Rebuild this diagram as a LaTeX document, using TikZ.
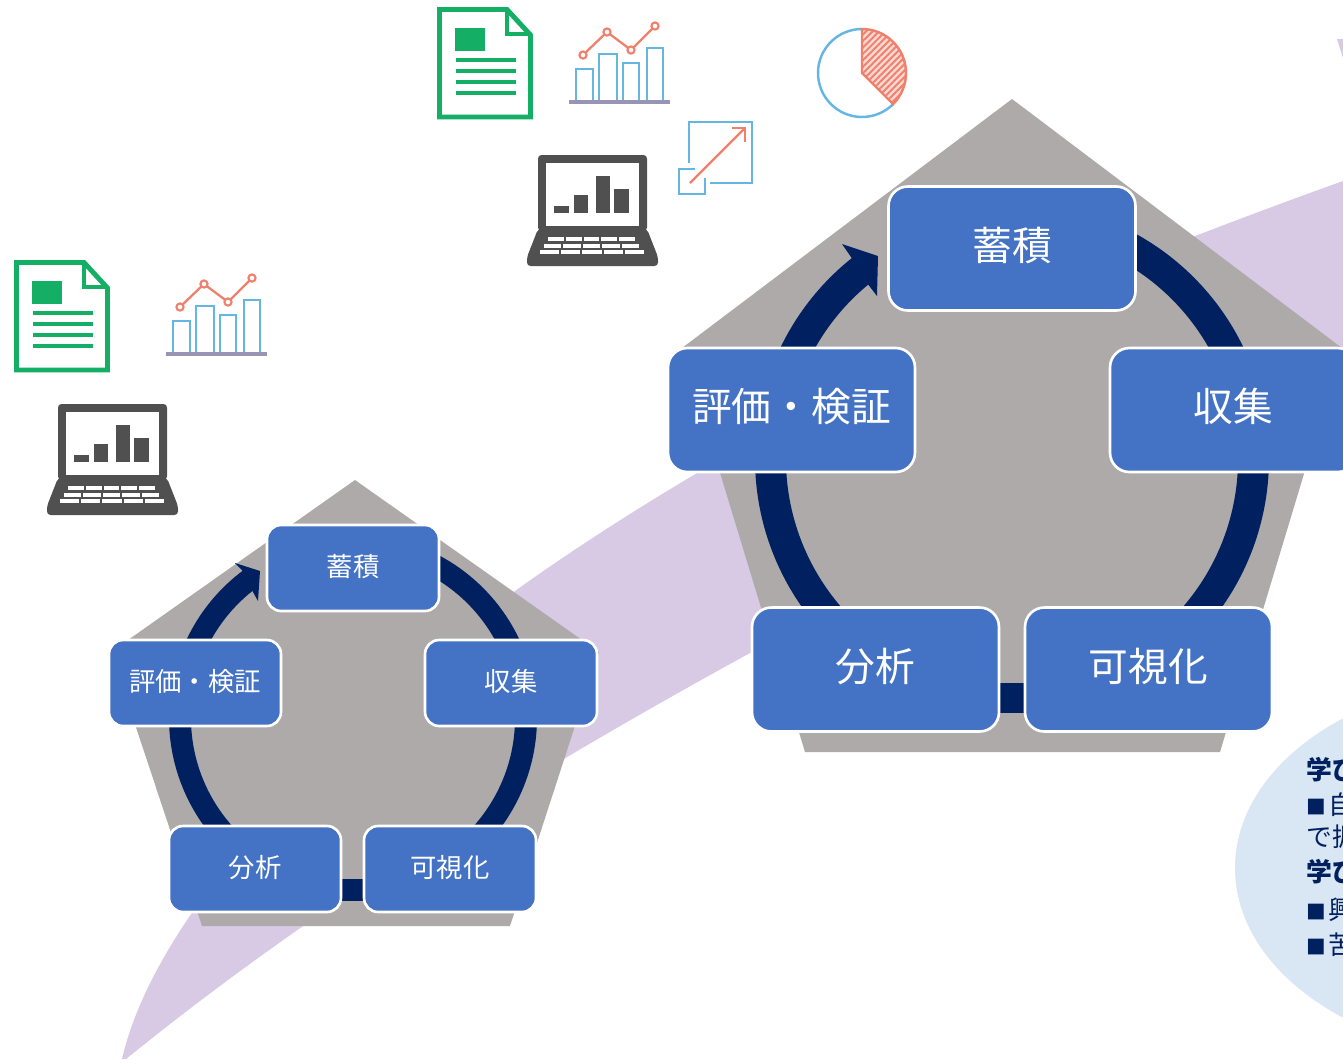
\documentclass[tikz,border=0pt]{standalone}
\usepackage{fontspec}
\setmainfont{Noto Sans CJK JP}
\usetikzlibrary{backgrounds,calc,patterns.meta}

\definecolor{boxblue}{HTML}{4472C4}
\definecolor{ringnavy}{HTML}{002060}
\definecolor{pentgray}{HTML}{AEAAAA}
\definecolor{swoosh}{HTML}{D8C9E5}
\definecolor{bubble}{HTML}{D9E7F4}
\definecolor{docgreen}{HTML}{14AF64}
\definecolor{iconblue}{HTML}{66B6E3}
\definecolor{iconred}{HTML}{F07F6C}
\definecolor{icongray}{HTML}{505050}
\definecolor{chartbase}{HTML}{9A94B4}

\newcommand{\squaremark}{{\fontsize{11.2}{20}\selectfont ■}\hspace{1.5pt}}

\tikzset{
    stagebox/.style={draw=white, line width=1.5pt, fill=boxblue, text=white,
                     inner sep=0pt, outer sep=0pt},
    bigbox/.style={stagebox, minimum width=4.94cm, minimum height=2.48cm,
                   rounded corners=11pt, text height=19pt, text depth=5.8pt,
                   font=\fontsize{22.6}{26}\selectfont},
    smallbox/.style={stagebox, minimum width=3.44cm, minimum height=1.72cm,
                     rounded corners=8pt, text height=13pt, text depth=3.6pt,
                     font=\fontsize{15}{18}\selectfont},
    bigring/.style={draw=ringnavy, line width=17.6pt},
    smallring/.style={draw=ringnavy, line width=12.5pt},
    docicon/.pic={
        \draw[docgreen, line width=2.8pt, line join=miter]
            (1.5, 1.5) -- (69, 1.5) -- (92.5, 27) -- (92.5, 109) -- (1.5, 109) -- cycle;
        \draw[docgreen, line width=2.8pt] (69, 1.5) -- (69, 26) -- (92.5, 26);
        \fill[docgreen] (17, 20) rectangle (47, 43);
        \foreach \y in {52, 63, 74, 85}
            \draw[docgreen, line width=2.5pt] (18, \y) -- (78, \y);
    },
    charticon/.pic={
        \draw[iconblue, line width=1.5pt] (7, 0) -- (7, -33) -- (24, -33) -- (24, 0);
        \draw[iconblue, line width=1.5pt] (30, 0) -- (30, -48) -- (48, -48) -- (48, 0);
        \draw[iconblue, line width=1.5pt] (54, 0) -- (54, -39) -- (70, -39) -- (70, 0);
        \draw[iconblue, line width=1.5pt] (78, 0) -- (78, -54) -- (94, -54) -- (94, 0);
        \draw[chartbase, line width=2.2pt] (0, 0) -- (101, 0);
        \draw[iconred, line width=1.3pt] (14, -47) -- (38, -70) -- (62, -52) -- (86, -76);
        \foreach \x/\y in {14/-47, 38/-70, 62/-52, 86/-76}
            \draw[iconred, line width=1.2pt, fill=white] (\x, \y) circle[radius=3.6];
    },
    laptopicon/.pic={
        \fill[icongray, rounded corners=2pt] (11, 0) rectangle (120, 76);
        \fill[icongray, rounded corners=2pt]
            (11, 74) -- (120, 74) -- (131, 102) -- (131, 111) -- (0, 111) -- (0, 102) -- cycle;
        \fill[white] (19, 8) rectangle (112, 71);
        \fill[icongray] (27, 51) rectangle (42, 58);
        \fill[icongray] (47, 40) rectangle (61, 58);
        \fill[icongray] (69, 21) rectangle (83, 58);
        \fill[icongray] (87, 34) rectangle (102, 58);
        \foreach \y/\l/\u in {84/21/17.8, 91/17/19.4, 97/13/21.2}
            \foreach \k in {0, ..., 4}
                \fill[white] ({\l+\k*\u}, \y-1.7) rectangle ({\l+\k*\u+\u-2}, \y+1.7);
    }
}

\begin{document}
\begin{tikzpicture}[x=0.02cm, y=-0.02cm]
    \useasboundingbox (0, 0) rectangle (1343, 1059);

    \coordinate (bigc) at (1012, 459);
    \coordinate (smallc) at (353, 718);

    \node[bigbox] (gather) at (1012, 248.5) {蓄積};
    \node[bigbox] (collect) at (1233.5, 410) {収集};
    \node[bigbox] (visual) at (1148.5, 669.5) {可視化};
    \node[bigbox] (analyze) at (875.5, 669.5) {分析};
    \node[bigbox] (review) at (791.5, 410) {評価・検証};

    \node[smallbox] (gathers) at (353, 568) {蓄積};
    \node[smallbox] (collects) at (511, 683) {収集};
    \node[smallbox] (visuals) at (450, 869) {可視化};
    \node[smallbox] (analyzes) at (255, 869) {分析};
    \node[smallbox] (reviews) at (195, 683) {評価・検証};

    \begin{scope}[on background layer]
        \fill[swoosh] (122, 1059) .. controls (160, 895) and (365, 710) .. (515, 591)
            .. controls (575, 548) and (635, 510) .. (697, 473)
            .. controls (860, 375) and (1040, 290) .. (1343, 181)
            -- (1343, 400) -- (750, 653) .. controls (500, 790) and (300, 918) .. (126, 1059) -- cycle;
        \fill[swoosh] (1337, 39) -- (1343, 39) -- (1343, 58) -- cycle;
        \fill[bubble] (1520, 868) ellipse[x radius=285, y radius=191];

        \fill[pentgray] (1012, 99) -- (1342, 348) -- (1220, 752) -- (805, 752) -- (682, 348) -- cycle;
        \fill[pentgray] (355, 480) -- (599, 652) -- (510, 926) -- (202, 926) -- (111, 652) -- cycle;

        \draw[bigring] (gather.center) -- ($(bigc)+(-70:241.5)$)
            arc[start angle=-70, end angle=-15, radius=241.5] -- (collect.center);
        \draw[bigring] (collect.center) -- ($(bigc)+(-5:241.5)$)
            arc[start angle=-5, end angle=60, radius=241.5] -- (visual.center);
        \draw[bigring, shorten <=-2pt, shorten >=-2pt] (visual.193.4) -- (analyze.-13.4);
        \draw[bigring] (analyze.center) -- ($(bigc)+(120:241.5)$)
            arc[start angle=120, end angle=185, radius=241.5] -- (review.center);
        \draw[bigring] (review.center) -- ($(bigc)+(195:241.5)$)
            arc[start angle=195, end angle=233, radius=241.5];
        \fill[ringnavy] (842, 244) -- (878, 256) -- (877, 296) -- (867, 283) -- (851, 257) -- cycle;

        \draw[smallring] (gathers.center) -- ($(smallc)+(-70:173)$)
            arc[start angle=-70, end angle=-15, radius=173] -- (collects.center);
        \draw[smallring] (collects.center) -- ($(smallc)+(-5:173)$)
            arc[start angle=-5, end angle=60, radius=173] -- (visuals.center);
        \draw[smallring, shorten <=-2pt, shorten >=-2pt] (visuals.194.35) -- (analyzes.-14.35);
        \draw[smallring] (analyzes.center) -- ($(smallc)+(120:173)$)
            arc[start angle=120, end angle=185, radius=173] -- (reviews.center);
        \draw[smallring] (reviews.center) -- ($(smallc)+(195:173)$)
            arc[start angle=195, end angle=234, radius=173];
        \fill[ringnavy] (235, 563) -- (260, 571) -- (258, 601) -- (253, 592) -- (242, 570) -- cycle;
    \end{scope}

    \node[anchor=west, align=left, inner sep=0pt, text=ringnavy,
          font=\fontsize{14.7}{20}\selectfont] (learn) at (1306, 857)
        {\textbf{学び}\\\squaremark 自\\[-1.6pt]で振\\\textbf{学び}\\[1.6pt]\squaremark 興\\\squaremark 苦};

    \pic at (438, 8) {docicon};
    \pic at (569, 102) {charticon};
    \pic at (527, 155) {laptopicon};
    \pic at (15, 261) {docicon};
    \pic at (166, 354) {charticon};
    \pic at (47, 404) {laptopicon};

    \draw[iconblue, line width=1.3pt] (689, 163) -- (689, 122) -- (752, 122) -- (752, 183) -- (710, 183);
    \draw[iconblue, line width=1.3pt] (695, 169) -- (679, 169) -- (679, 194) -- (705, 194) -- (705, 178);
    \draw[iconred, line width=1.3pt] (690, 183) -- (745, 128);
    \draw[iconred, line width=1.3pt] (732, 128) -- (745, 128) -- (745, 142);

    \draw[iconblue, line width=1.4pt] (862, 29) arc[start angle=-90, end angle=-315, radius=44];
    \fill[fill=iconred!30] (862, 73) -- (862, 29) arc[start angle=-90, end angle=45, radius=44] -- cycle;
    \fill[pattern={Lines[angle=45, distance=2.6pt, line width=1.1pt]}, pattern color=iconred]
        (862, 73) -- (862, 29) arc[start angle=-90, end angle=45, radius=44] -- cycle;
    \draw[iconred, line width=1.4pt] (862, 73) -- (862, 29) arc[start angle=-90, end angle=45, radius=44] -- cycle;
\end{tikzpicture}
\end{document}
